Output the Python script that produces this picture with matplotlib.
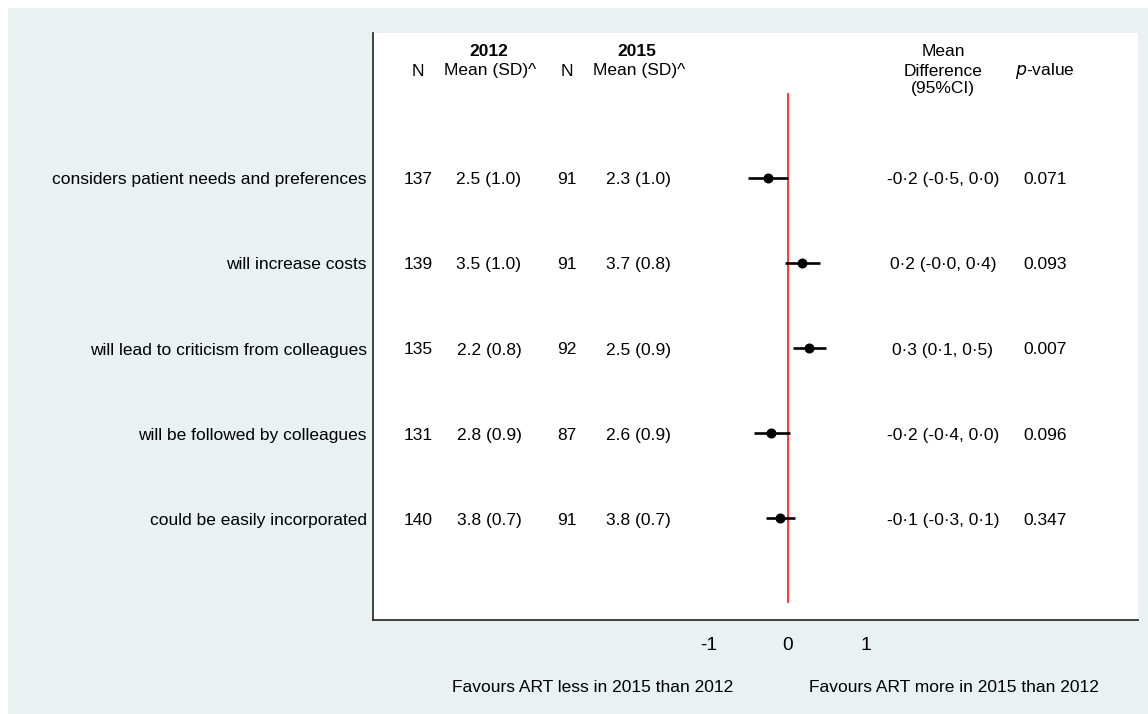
import matplotlib
matplotlib.use("Agg")
import matplotlib.pyplot as plt
from matplotlib.patches import Rectangle
import matplotlib.transforms as mtransforms

# ---------------- data ----------------
labels = ["considers patient needs and preferences",
          "will increase costs",
          "will lead to criticism from colleagues",
          "will be followed by colleagues",
          "could be easily incorporated"]
n2012 = [137, 139, 135, 131, 140]
mean2012 = [2.5, 3.5, 2.2, 2.8, 3.8]
sd2012 = [1.0, 1.0, 0.8, 0.9, 0.7]
n2015 = [91, 91, 92, 87, 91]
mean2015 = [2.3, 3.7, 2.5, 2.6, 3.8]
sd2015 = [1.0, 0.8, 0.9, 0.9, 0.7]
diff_txt = [-0.2, 0.2, 0.3, -0.2, -0.1]
lo_txt = [-0.5, -0.0, 0.1, -0.4, -0.3]
hi_txt = [0.0, 0.4, 0.5, 0.0, 0.1]
pvals = [0.071, 0.093, 0.007, 0.096, 0.347]
# plotted estimates
diff_est = [-0.245, 0.19, 0.28, -0.21, -0.10]
ci_lo = [-0.50, -0.03, 0.075, -0.43, -0.28]
ci_hi = [0.01, 0.41, 0.495, 0.03, 0.095]
xticks = [-1, 0, 1]

# ---------------- figure ----------------
W, H = 1148, 714
plt.rcParams['font.family'] = ['Liberation Sans', 'DejaVu Sans']
fig = plt.figure(figsize=(W / 100, H / 100), dpi=100, facecolor='white')
bg = '#E9F1F2'
fig.patches.append(Rectangle((8 / W, 0), 1 - 8 / W, 1 - 8 / H, transform=fig.transFigure,
                             facecolor=bg, edgecolor='none', zorder=-10))

L, R, T, B = 373, 1138, 33, 620
ax = fig.add_axes([L / W, 1 - B / H, (R - L) / W, (B - T) / H])
ax.set_facecolor('white')

x0, ppu = 787.5, 78.5
ax.set_xlim((L - x0) / ppu, (R - x0) / ppu)
row0, rsp = 177.7, 85.15
ax.set_ylim((B - row0) / rsp + 1, (T - row0) / rsp + 1)

rows = list(range(1, len(labels) + 1))

# reference line
ax.vlines(0, 0, 6, color='#FF0000', lw=1.1, zorder=2)
# CIs and points
ax.hlines(rows, ci_lo, ci_hi, color='black', lw=1.9, zorder=3)
ax.plot(diff_est, rows, 'o', color='black', ms=6.2, zorder=4)

for s in ['top', 'right']:
    ax.spines[s].set_visible(False)
for s in ['left', 'bottom']:
    ax.spines[s].set_color('#333333')
    ax.spines[s].set_linewidth(1.3)
ax.set_yticks([])
ax.set_xticks(xticks)
ax.set_xticklabels([str(t) for t in xticks], fontsize=13.8)
ax.tick_params(axis='x', length=0, pad=12)

fs = 12.5
bt = mtransforms.blended_transform_factory(fig.transFigure, ax.transData)


def fx(px):
    return px / W


def rowy(py):
    return (py - row0) / rsp + 1


def dot(v):
    return f"{v:.1f}".replace('.', '\u00b7')


dy = 2.0 / rsp
for i, r in enumerate(rows):
    ty = r + dy
    ax.text(fx(367), ty, labels[i], transform=bt, ha='right', va='center', fontsize=fs, clip_on=False)
    ax.text(fx(418), ty, str(n2012[i]), transform=bt, ha='center', va='center', fontsize=fs)
    ax.text(fx(489), ty, f"{mean2012[i]:.1f} ({sd2012[i]:.1f})", transform=bt, ha='center', va='center', fontsize=fs)
    ax.text(fx(567), ty, str(n2015[i]), transform=bt, ha='center', va='center', fontsize=fs)
    ax.text(fx(638), ty, f"{mean2015[i]:.1f} ({sd2015[i]:.1f})", transform=bt, ha='center', va='center', fontsize=fs)
    ax.text(fx(943), ty, f"{dot(diff_txt[i])} ({dot(lo_txt[i])}, {dot(hi_txt[i])})", transform=bt,
            ha='center', va='center', fontsize=fs)
    ax.text(fx(1045), ty, f"{pvals[i]:.3f}", transform=bt, ha='center', va='center', fontsize=fs)

# headers
ax.text(fx(489), rowy(51), "2012", transform=bt, ha='center', va='center', fontsize=fs, fontweight='bold')
ax.text(fx(637), rowy(51), "2015", transform=bt, ha='center', va='center', fontsize=fs, fontweight='bold')
for xp, t in [(418, "N"), (490, "Mean (SD)^"), (567, "N"), (639, "Mean (SD)^")]:
    ax.text(fx(xp), rowy(71), t, transform=bt, ha='center', va='center', fontsize=fs)
for yp, t in [(51, "Mean"), (71, "Difference"), (89, "(95%CI)")]:
    ax.text(fx(943), rowy(yp), t, transform=bt, ha='center', va='center', fontsize=fs)
ax.text(fx(1045), rowy(71), r"$\it{p}$-value", transform=bt, ha='center', va='center', fontsize=fs)

# bottom annotations
fig.text(fx(593), 1 - 688 / H, "Favours ART less in 2015 than 2012", ha='center', va='center', fontsize=fs)
fig.text(fx(954), 1 - 688 / H, "Favours ART more in 2015 than 2012", ha='center', va='center', fontsize=fs)

fig.savefig("out.png", dpi=100, facecolor='white')
